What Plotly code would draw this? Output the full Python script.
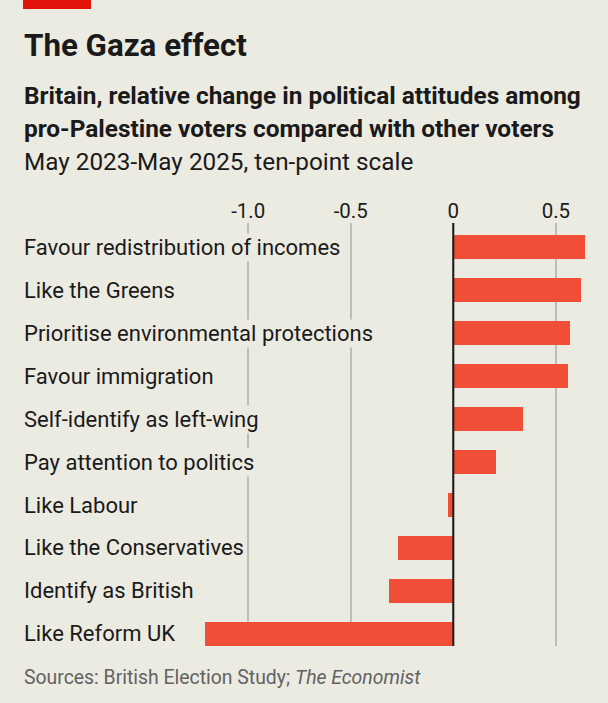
import plotly.graph_objects as go

categories = [
    "Favour redistribution of incomes",
    "Like the Greens",
    "Prioritise environmental protections",
    "Favour immigration",
    "Self-identify as left-wing",
    "Pay attention to politics",
    "Like Labour",
    "Like the Conservatives",
    "Identify as British",
    "Like Reform UK",
]
values = [0.64, 0.625, 0.57, 0.56, 0.34, 0.21, -0.025, -0.27, -0.315, -1.21]
tick_vals = [-1.0, -0.5, 0, 0.5]
tick_text = ["-1.0", "-0.5", "0", "0.5"]

W, H = 608, 703
L, R, T, B = 22, 8, 223, 57
PW, PH = W - L - R, H - T - B
BG = "#ECEBE2"
BAR = "#F04E37"
FONT = "Roboto"


def px(x):
    return (x - L) / PW


def py(y):
    return (H - B - y) / PH


positions = list(range(len(categories)))

fig = go.Figure()
fig.add_trace(go.Bar(
    x=values, y=positions, orientation="h", width=0.56,
    marker=dict(color=BAR, line=dict(width=0)), hoverinfo="skip",
))

annotations = []
for p, c in zip(positions, categories):
    annotations.append(dict(
        x=0, xref="paper", y=p, yref="y", text=c, showarrow=False,
        xanchor="left", yanchor="middle", bgcolor=BG, borderpad=1,
        font=dict(family=FONT, size=22, color="#1a1a1a"),
    ))

annotations += [
    dict(x=px(22), y=py(45), xref="paper", yref="paper", xanchor="left", yanchor="middle",
         text="<b>The Gaza effect</b>", showarrow=False,
         font=dict(family=FONT, size=31.3, color="#1a1a1a")),
    dict(x=px(22), y=py(96), xref="paper", yref="paper", xanchor="left", yanchor="middle",
         text="<b>Britain, relative change in political attitudes among</b>", showarrow=False,
         font=dict(family=FONT, size=24.4, color="#1a1a1a")),
    dict(x=px(22), y=py(129), xref="paper", yref="paper", xanchor="left", yanchor="middle",
         text="<b>pro-Palestine voters compared with other voters</b>", showarrow=False,
         font=dict(family=FONT, size=24.4, color="#1a1a1a")),
    dict(x=px(22), y=py(161), xref="paper", yref="paper", xanchor="left", yanchor="middle",
         text="May 2023-May 2025, ten-point scale", showarrow=False,
         font=dict(family=FONT, size=24.3, color="#1a1a1a")),
    dict(x=px(22), y=py(677), xref="paper", yref="paper", xanchor="left", yanchor="middle",
         text="Sources: British Election Study; <i>The Economist</i>", showarrow=False,
         font=dict(family=FONT, size=19.4, color="#626262")),
]

shapes = [
    dict(type="rect", xref="paper", yref="paper", x0=px(23), x1=px(91), y0=py(9), y1=py(0),
         fillcolor="#E3120B", line=dict(width=0), layer="above"),
    dict(type="line", xref="x", yref="paper", x0=0, x1=0, y0=0, y1=1,
         line=dict(color="#1a1a1a", width=2), layer="above"),
]

fig.update_layout(
    width=W, height=H, margin=dict(l=L, r=R, t=T, b=B),
    paper_bgcolor=BG, plot_bgcolor=BG, showlegend=False,
    annotations=annotations, shapes=shapes,
    xaxis=dict(
        range=[(L - 453.3) / 205.1, (W - R - 453.3) / 205.1],
        side="top", tickvals=tick_vals, ticktext=tick_text,
        showgrid=True, gridcolor="#BEBDB6", gridwidth=1.5, zeroline=False,
        ticks="", tickfont=dict(family=FONT, size=20.5, color="#1a1a1a"),
        showline=False, fixedrange=True,
    ),
    yaxis=dict(
        range=[9.28, -0.56], showticklabels=False, showgrid=False,
        zeroline=False, showline=False, ticks="", fixedrange=True,
    ),
    bargap=0,
)

fig.write_html("out.html")
